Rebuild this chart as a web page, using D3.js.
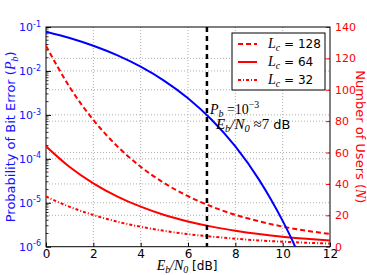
<!DOCTYPE html>
<html>
<head>
<meta charset="utf-8">
<script src="https://cdn.jsdelivr.net/npm/d3@7"></script>
<style>
  body { margin: 0; background: #fff; }
  text { font-family: "DejaVu Sans", sans-serif; }
  .math { font-family: "Liberation Serif", "DejaVu Serif", serif; font-style: italic; }
</style>
</head>
<body>
<div id="chart"></div>
<script>
// data
const snrDb = [0, 1, 2, 3, 4, 5, 6, 7, 8, 9, 10, 11, 12];
const users128 = [128, 101.7, 80.8, 64.2, 51.0, 40.5, 32.2, 25.6, 20.3, 16.2, 12.8, 10.2, 8.1];
const users64 = [64, 50.8, 40.4, 32.1, 25.5, 20.2, 16.1, 12.8, 10.2, 8.1, 6.4, 5.1, 4.0];
const users32 = [32, 25.4, 20.2, 16.0, 12.7, 10.1, 8.0, 6.4, 5.1, 4.0, 3.2, 2.5, 2.0];

const berDb = [0, 1, 2, 3, 4, 5, 6, 7, 8, 9, 9.5, 10, 10.5, 10.7];
const berValues = [7.86e-2, 5.63e-2, 3.75e-2, 2.29e-2, 1.25e-2, 5.95e-3, 2.39e-3, 7.73e-4, 1.91e-4, 3.36e-5, 1.2e-5, 3.87e-6, 1.08e-6, 6.0e-7];

const xTicks = [0, 2, 4, 6, 8, 10, 12];
const berTicks = [1e-1, 1e-2, 1e-3, 1e-4, 1e-5, 1e-6];
const userTicks = [0, 20, 40, 60, 80, 100, 120, 140];
const markerDb = 6.8;

const legendNames = ["128", "64", "32"];
const legendDash = ["5,3", null, "3,2,1,2"];

const width = 367, height = 275;
const margin = { top: 27, right: 37, bottom: 28.3, left: 46 };
const w = width - margin.left - margin.right;
const h = height - margin.top - margin.bottom;

const svg = d3.select("#chart").append("svg")
  .attr("width", width)
  .attr("height", height);

const g = svg.append("g").attr("transform", `translate(${margin.left},${margin.top})`);

const x = d3.scaleLinear().domain([0, 12]).range([0, w]);
const yBer = d3.scaleLog().domain([1e-6, 1e-1]).range([h, 0]);
const yUsers = d3.scaleLinear().domain([0, 140]).range([h, 0]);

g.append("clipPath").attr("id", "clip")
  .append("rect").attr("width", w).attr("height", h);

// math text helper: parts are [text, kind] with kind "i" italic, "s" subscript, "p" superscript, "r" roman serif, "t" sans
function mathText(sel, parts, size) {
  let shift = 0;
  parts.forEach(([txt, kind]) => {
    const sp = sel.append("tspan").text(txt);
    let target = 0;
    if (kind === "i" || kind === "s") sp.attr("class", "math");
    if (kind === "r" || kind === "p") sp.attr("font-family", "Liberation Serif");
    if (kind === "s") target = 3;
    if (kind === "p") target = -6;
    if (kind === "s" || kind === "p") sp.attr("font-size", size * 0.7);
    else sp.attr("font-size", size);
    if (kind === "t") sp.attr("font-size", size * 0.86);
    if (target !== shift) { sp.attr("dy", target - shift); shift = target; }
  });
}

// grid
const grid = g.append("g").attr("stroke", "#999").attr("stroke-width", 0.8).attr("stroke-dasharray", "1,2");
grid.selectAll(".gx").data(xTicks.slice(1, -1)).enter().append("line")
  .attr("x1", d => x(d)).attr("x2", d => x(d)).attr("y1", 0).attr("y2", h);
grid.selectAll(".gb").data(berTicks.slice(1, -1)).enter().append("line")
  .attr("x1", 0).attr("x2", w).attr("y1", d => yBer(d)).attr("y2", d => yBer(d));
grid.selectAll(".gu").data(userTicks.slice(1, -1)).enter().append("line")
  .attr("x1", 0).attr("x2", w).attr("y1", d => yUsers(d)).attr("y2", d => yUsers(d));

// axes
const xAxis = g.append("g").attr("transform", `translate(0,${h})`)
  .call(d3.axisBottom(x).tickValues(xTicks).tickSizeInner(-4).tickSizeOuter(0).tickPadding(3));
xAxis.selectAll("text").attr("font-size", 12).attr("fill", "#000");

const yAxisL = g.append("g")
  .call(d3.axisLeft(yBer).tickValues(berTicks).tickSizeInner(-5).tickSizeOuter(0).tickPadding(5).tickFormat(() => ""));
yAxisL.selectAll(".tick line").attr("stroke", "#000");
yAxisL.selectAll(".tick text").attr("fill", "#1010ff").attr("font-size", 11).attr("dy", "0.32em")
  .each(function(d) {
    const t = d3.select(this);
    t.append("tspan").text("10");
    t.append("tspan").attr("dy", "-0.55em").attr("font-size", 8).text(String(Math.round(Math.log10(d))));
  });
// minor log ticks
const minor = [];
berTicks.slice(1).forEach(d => { for (let k = 2; k <= 9; k++) minor.push(d * k); });
g.append("g").selectAll("line").data(minor).enter().append("line")
  .attr("x1", 0).attr("x2", 2.5).attr("y1", d => yBer(d)).attr("y2", d => yBer(d))
  .attr("stroke", "#000").attr("stroke-width", 0.8);

const yAxisR = g.append("g").attr("transform", `translate(${w},0)`)
  .call(d3.axisRight(yUsers).tickValues(userTicks).tickSizeInner(-4).tickSizeOuter(0).tickPadding(5));
yAxisR.selectAll(".tick line").attr("stroke", "#f00");
yAxisR.selectAll(".tick text").attr("fill", "#f00").attr("font-size", 11);

g.selectAll(".domain").remove();
g.append("rect").attr("width", w).attr("height", h).attr("fill", "none").attr("stroke", "#000").attr("stroke-width", 1);

// lines
const plot = g.append("g").attr("clip-path", "url(#clip)");
const usersLine = d3.line().x((d, i) => x(snrDb[i])).y(d => yUsers(d)).curve(d3.curveMonotoneX);
[users128, users64, users32].forEach((s, i) => {
  plot.append("path").datum(s).attr("d", usersLine)
    .attr("fill", "none").attr("stroke", "#f00").attr("stroke-width", 2)
    .attr("stroke-dasharray", legendDash[i]);
});
const berLine = d3.line().x((d, i) => x(berDb[i])).y(d => yBer(d)).curve(d3.curveMonotoneX);
plot.append("path").datum(berValues).attr("d", berLine)
  .attr("fill", "none").attr("stroke", "#0000ff").attr("stroke-width", 2);

plot.append("line").attr("x1", x(markerDb)).attr("x2", x(markerDb)).attr("y1", 0).attr("y2", h)
  .attr("stroke", "#000").attr("stroke-width", 2.5).attr("stroke-dasharray", "5,4");

// annotation
const a1 = g.append("text").attr("x", x(markerDb) + 3).attr("y", yBer(1e-3) - 1);
mathText(a1, [["P", "i"], ["b", "s"], [" =10", "r"], ["−3", "p"]], 14);
const a2 = g.append("text").attr("x", x(markerDb) + 9).attr("y", yBer(1e-3) + 14);
mathText(a2, [["E", "i"], ["b", "s"], ["/N", "i"], ["0", "s"], [" ≈7", "r"], [" dB", "t"]], 15);

// legend
const lg = g.append("g").attr("transform", `translate(${232 - margin.left},${33 - margin.top})`);
lg.append("rect").attr("width", 93).attr("height", 57).attr("fill", "#fff").attr("stroke", "#000").attr("stroke-width", 1);
legendNames.forEach((n, i) => {
  const yy = 11 + i * 18;
  lg.append("line").attr("x1", 6).attr("x2", 25).attr("y1", yy).attr("y2", yy)
    .attr("stroke", "#f00").attr("stroke-width", 2).attr("stroke-dasharray", legendDash[i]);
  const t = lg.append("text").attr("x", 36).attr("y", yy + 4);
  mathText(t, [["L", "i"], ["c", "s"], [" = " + n, "t"]], 14);
});

// axis titles
const xl = svg.append("text").attr("x", 187).attr("y", 270).attr("text-anchor", "middle");
mathText(xl, [["E", "i"], ["b", "s"], ["/N", "i"], ["0", "s"], [" [dB]", "t"]], 14);

const ylL = svg.append("text").attr("transform", `translate(15,${margin.top + h / 2}) rotate(-90)`)
  .attr("text-anchor", "middle").attr("font-size", 13).attr("fill", "#1010ff");
ylL.append("tspan").text("Probability of Bit Error (");
ylL.append("tspan").attr("class", "math").attr("font-size", 14).text("P");
ylL.append("tspan").attr("class", "math").attr("font-size", 10).attr("dy", 3).text("b");
ylL.append("tspan").attr("dy", -3).text(")");

const ylR = svg.append("text").attr("transform", `translate(356,${margin.top + h / 2}) rotate(90)`)
  .attr("text-anchor", "middle").attr("font-size", 13).attr("fill", "#f00");
ylR.append("tspan").text("Number of Users (");
ylR.append("tspan").attr("class", "math").attr("font-size", 14).text("N");
ylR.append("tspan").text(")");
</script>
</body>
</html>
